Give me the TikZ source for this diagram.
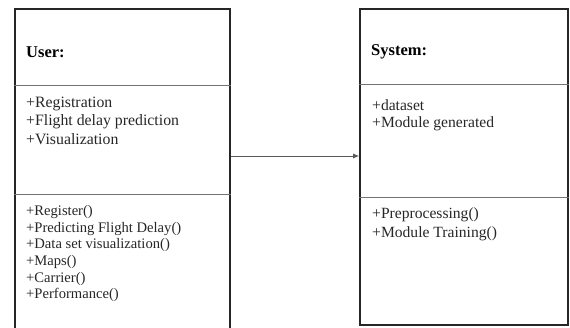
\documentclass[tikz,border=0pt]{standalone}
\usepackage{fontspec}
\setmainfont{Liberation Serif}
\usetikzlibrary{positioning,arrows.meta}

\begin{document}
\begin{tikzpicture}[x=1pt, y=1pt, >={Latex[length=6pt,width=5pt]}]
\tikzset{
  cls/.style={rectangle, draw=black!85, line width=1.6pt, inner sep=0pt},
  divider/.style={draw=black!55, line width=0.9pt},
  head/.style={font=\fontsize{16.5}{18}\selectfont\bfseries, anchor=west, inner sep=0pt},
  attr/.style={align=left, anchor=north west, inner sep=0pt, text=black!85},
  link/.style={->, draw=black!65, line width=0.8pt}
}
\useasboundingbox (0,0) rectangle (570,328);
\node[cls, minimum width=215pt, minimum height=331pt] (user) at (122.5,153.5) {};
\node[cls, minimum width=208pt, minimum height=316pt] (sys) at (464,161) {};
\draw[divider] (user.west |- 0,243) -- (user.east |- 0,243);
\draw[divider] (user.west |- 0,134) -- (user.east |- 0,134);
\draw[divider] (sys.west |- 0,244) -- (sys.east |- 0,244);
\draw[divider] (sys.west |- 0,131) -- (sys.east |- 0,131);
\node[head] (userT) at (26,276) {User:};
\node[head] (sysT) at (371,276) {System:};
\node[attr, font=\fontsize{15.8}{18.3}\selectfont] (userA) at (26,231)
  {+Registration\\+Flight delay prediction\\+Visualization};
\node[attr, font=\fontsize{14.6}{16.7}\selectfont] (userM) at (26,123)
  {+Register()\\+Predicting Flight Delay()\\+Data set visualization()\\+Maps()\\+Carrier()\\+Performance()};
\node[attr, font=\fontsize{15.6}{17.5}\selectfont] (sysA) at (372,229)
  {+dataset\\+Module generated};
\node[attr, font=\fontsize{15.6}{19}\selectfont] (sysM) at (372,121)
  {+Preprocessing()\\+Module Training()};
\draw[link] (user.east |- 0,172) -- (sys.west |- 0,172);
\end{tikzpicture}
\end{document}
